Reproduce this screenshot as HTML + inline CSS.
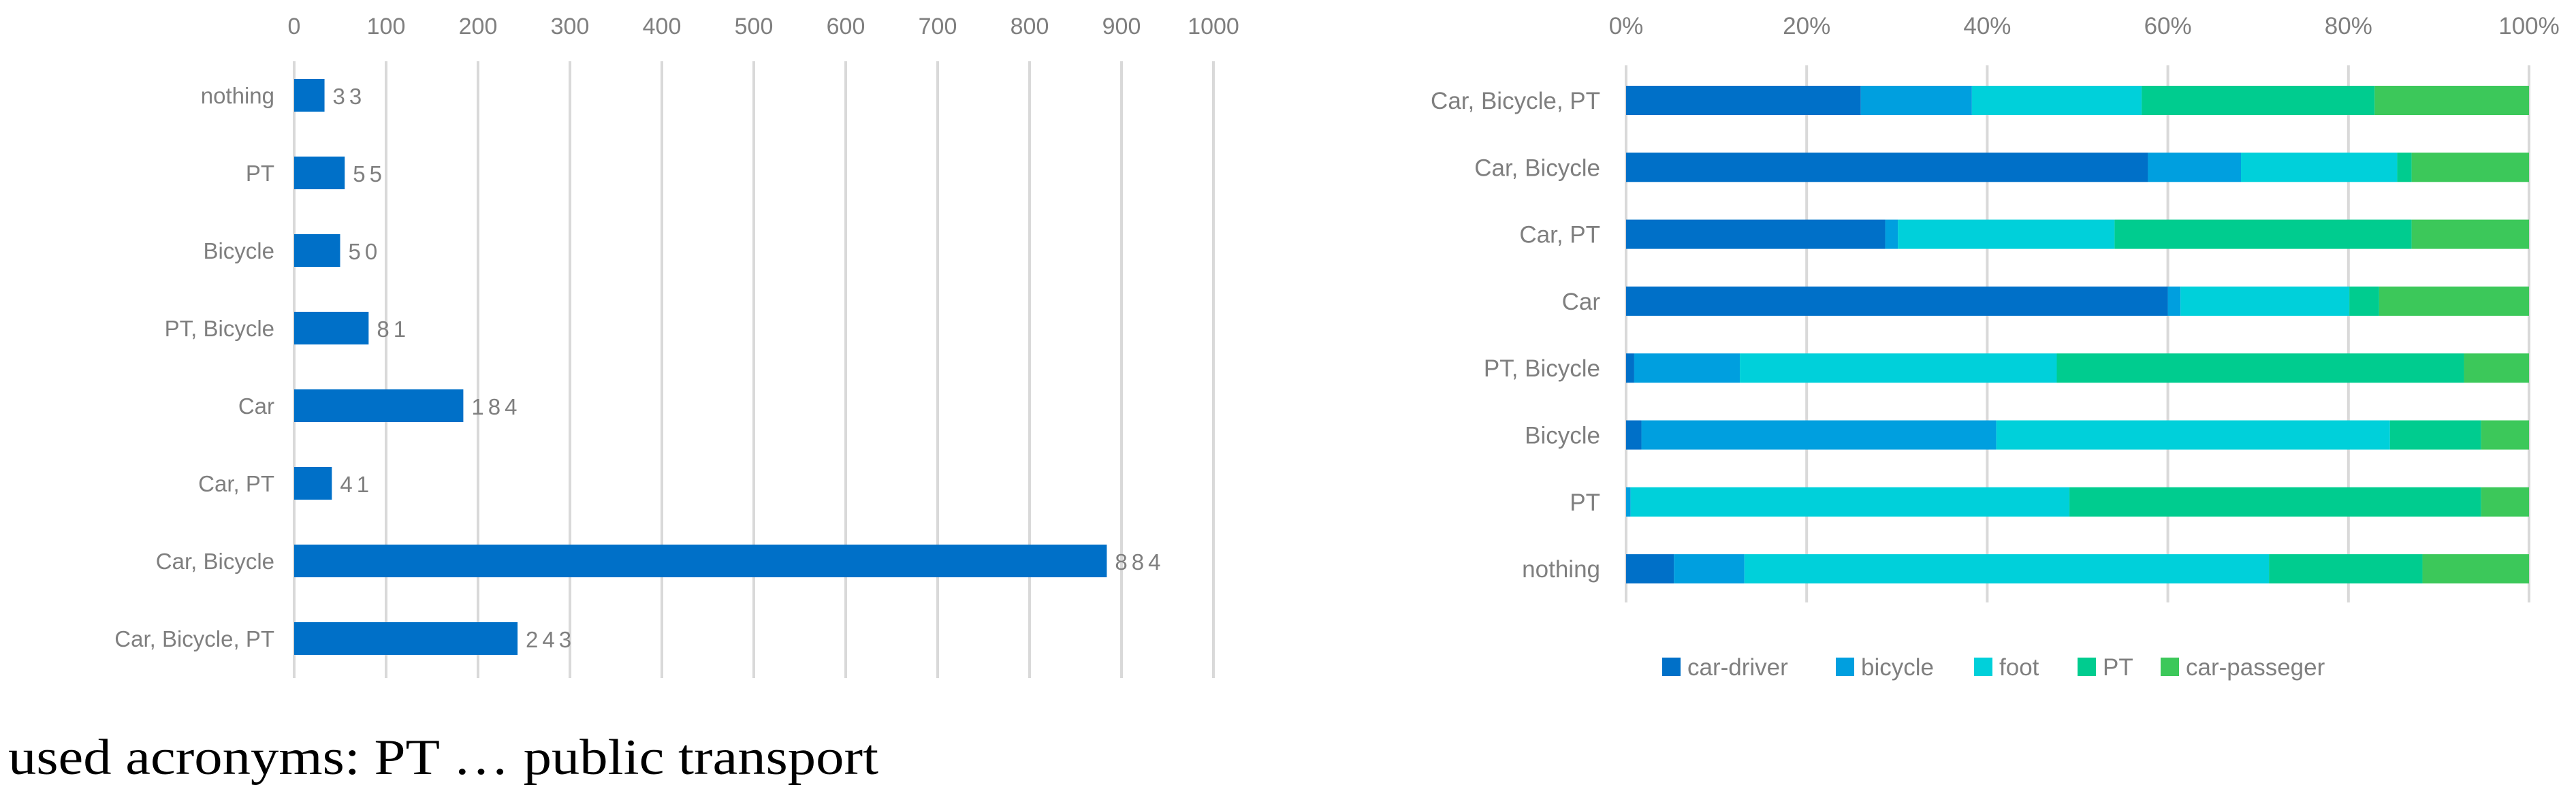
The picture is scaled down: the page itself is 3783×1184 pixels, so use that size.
<!DOCTYPE html>
<html><head><meta charset="utf-8"><style>
html,body{margin:0;padding:0;background:#fff;}
svg{display:block;}
text{font-family:"Liberation Sans",sans-serif;fill:#7f7f7f;}
</style></head><body>
<svg id="s" width="3783" height="1184" viewBox="0 0 3783 1184" xmlns="http://www.w3.org/2000/svg">
<g id="left"></g>
<g id="right"></g>
<text x="12" y="1137" textLength="1278" lengthAdjust="spacingAndGlyphs" style="font-family:'Liberation Serif',serif;font-size:74px;fill:#000">used acronyms: PT … public transport</text>
</svg>
<script>
const leftCats = ["nothing","PT","Bicycle","PT, Bicycle","Car","Car, PT","Car, Bicycle","Car, Bicycle, PT"];
const leftVals = [33,55,50,81,184,41,884,243];
const leftTicks = [0,100,200,300,400,500,600,700,800,900,1000];

const rightCats = ["Car, Bicycle, PT","Car, Bicycle","Car, PT","Car","PT, Bicycle","Bicycle","PT","nothing"];
const seriesNames = ["car-driver","bicycle","foot","PT","car-passeger"];
const carDriver = [26.0,57.8,28.7,60.0,0.9,1.7,0,5.3];
const bicycle = [12.3,10.3,1.4,1.4,11.7,39.3,0.5,7.8];
const foot = [18.8,17.3,24.0,18.7,35.1,43.6,48.6,58.1];
const pt = [25.8,1.6,32.9,3.3,45.1,10.1,45.6,17.0];
const carPass = [17.1,13.0,13.0,16.6,7.2,5.3,5.3,11.8];
const rightTicks = [0,20,40,60,80,100];

const NS="http://www.w3.org/2000/svg";
function mk(parent,tag,attrs,txt){const e=document.createElementNS(NS,tag);for(const k in attrs)e.setAttribute(k,attrs[k]);if(txt!==undefined)e.textContent=txt;parent.appendChild(e);return e;}

// left chart
const L=document.getElementById('left');
const lx=v=>432+v*1.35;
const ly=i=>140+i*114;
leftTicks.forEach(t=>{
  const g=mk(L,'line',{x1:lx(t),x2:lx(t),y1:90,y2:996,stroke:'#d9d9d9','stroke-width':4});
  
  
  const tx=mk(L,'text',{x:lx(t),y:50,'text-anchor':'middle','font-size':34},t);
  
  
});
leftCats.forEach((c,i)=>{
  const tl=mk(L,'text',{x:403,y:ly(i)+12,'text-anchor':'end','font-size':33},c);
  
  
  const b=mk(L,'rect',{x:lx(0),y:ly(i)-24,width:lx(leftVals[i])-lx(0),height:48,fill:'#0070C8'});
  
  
  const v=mk(L,'text',{x:lx(leftVals[i])+12,y:ly(i)+13,'font-size':33,'letter-spacing':'6',fill:'#595959'},leftVals[i]);
  
  
});

// right chart
const R=document.getElementById('right');
const rx=v=>2388+v*13.26;
const ry=i=>147+i*98.3;
const colors=['#0070C8','#009FDF','#00D0DA','#00CC8F','#3CC85A'];
const series=[carDriver,bicycle,foot,pt,carPass];
rightTicks.forEach(t=>{
  const g=mk(R,'line',{x1:rx(t),x2:rx(t),y1:96,y2:885,stroke:'#d9d9d9','stroke-width':4});
  
  
  const tx=mk(R,'text',{x:rx(t),y:50,'text-anchor':'middle','font-size':35},t+'%');
  
  
});
rightCats.forEach((c,i)=>{
  const tl=mk(R,'text',{x:2350,y:ry(i)+13,'text-anchor':'end','font-size':35},c);
  
  
  let acc=0;
  series.forEach((s,k)=>{
    const r=mk(R,'rect',{x:rx(acc),y:ry(i)-21,width:rx(acc+s[i])-rx(acc),height:43,fill:colors[k]});
    
    
    acc+=s[i];
  });
});
const legX=[2441,2696,2899,3051,3173];
seriesNames.forEach((n,k)=>{
  const sq=mk(R,'rect',{x:legX[k],y:966,width:27,height:27,fill:colors[k]});
  
  
  const t=mk(R,'text',{x:legX[k]+37,y:992,'font-size':35},n);
  
  
});
</script>
</body></html>
